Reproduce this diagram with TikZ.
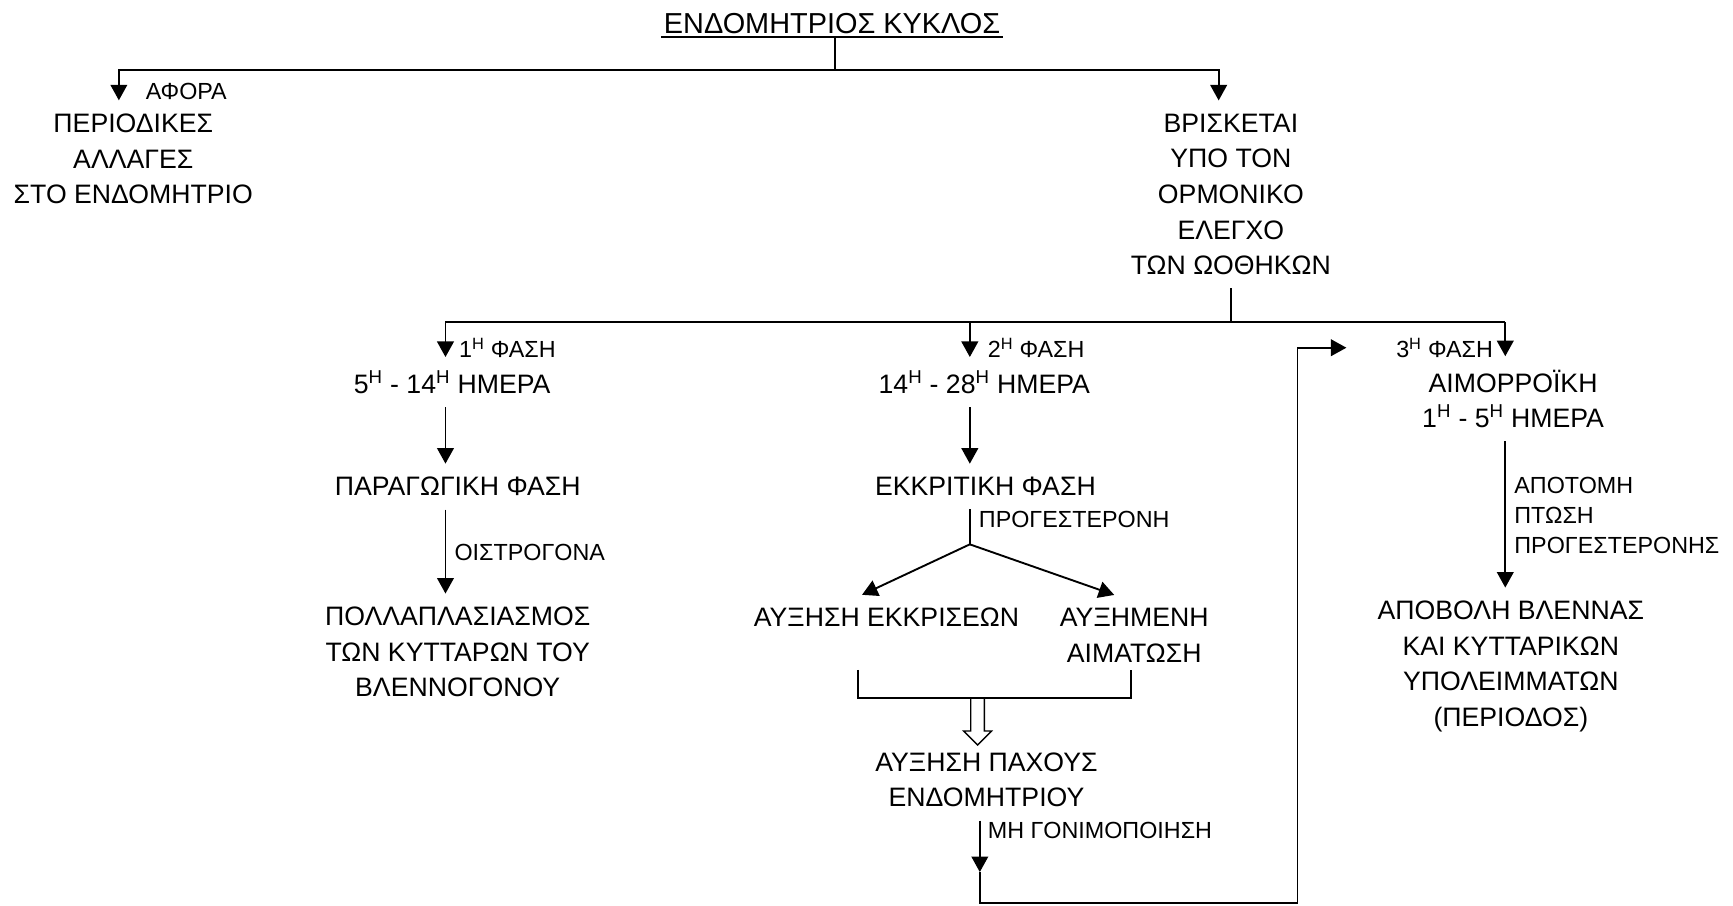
\documentclass[tikz,border=0pt]{standalone}
\usepackage{fontspec}
\setmainfont{Liberation Sans}
\usetikzlibrary{arrows.meta,shapes.arrows}
\newcommand{\supH}{\textsuperscript{Η}}

\begin{document}
\begin{tikzpicture}[x=1pt,y=-1pt,
    txt/.style={font={\fontsize{24}{32}\selectfont},align=center,inner xsep=2pt,inner ysep=12pt},
    lbl/.style={font={\fontsize{21}{27}\selectfont},align=left,inner sep=1pt},
    ln/.style={line width=1.7pt},
    arr/.style={line width=1.7pt,-{Triangle[length=14pt,width=15pt]}},
    hollow/.style={single arrow,draw,fill=white,line width=1.2pt,minimum height=42pt,
        inner sep=5.5pt,single arrow head extend=6.5pt,shape border rotate=270}]
\useasboundingbox (0,0) rectangle (1560,815);

\node[txt,font={\fontsize{26}{32}\selectfont},inner ysep=3pt] (cycle) at (749,21) {ΕΝΔΟΜΗΤΡΙΟΣ ΚΥΚΛΟΣ};
\draw[line width=1.4pt] (cycle.south west) -- (cycle.south east);

\node[txt] (changes) at (120,143) {ΠΕΡΙΟΔΙΚΕΣ\\ΑΛΛΑΓΕΣ\\ΣΤΟ ΕΝΔΟΜΗΤΡΙΟ};
\node[lbl,anchor=west] (about) at (130,82) {ΑΦΟΡΑ};
\node[txt] (control) at (1108,175) {ΒΡΙΣΚΕΤΑΙ\\ΥΠΟ ΤΟΝ\\ΟΡΜΟΝΙΚΟ\\ΕΛΕΓΧΟ\\ΤΩΝ ΩΟΘΗΚΩΝ};

\node[txt] (days1) at (407,344) {5\supH{} - 14\supH{} ΗΜΕΡΑ};
\node[lbl,anchor=west] (ph1) at (412,313) {1\supH{} ΦΑΣΗ};
\node[txt] (days2) at (886,344) {14\supH{} - 28\supH{} ΗΜΕΡΑ};
\node[lbl,anchor=west] (ph2) at (888,313) {2\supH{} ΦΑΣΗ};
\node[txt] (days3) at (1362,359) {ΑΙΜΟΡΡΟΪΚΗ\\1\supH{} - 5\supH{} ΗΜΕΡΑ};
\node[lbl,anchor=east] (ph3) at (1345,313) {3\supH{} ΦΑΣΗ};

\node[txt] (prolif) at (412,438) {ΠΑΡΑΓΩΓΙΚΗ ΦΑΣΗ};
\node[lbl,anchor=west] (oestr) at (408,497) {ΟΙΣΤΡΟΓΟΝΑ};
\node[txt] (cells) at (412,587) {ΠΟΛΛΑΠΛΑΣΙΑΣΜΟΣ\\ΤΩΝ ΚΥΤΤΑΡΩΝ ΤΟΥ\\ΒΛΕΝΝΟΓΟΝΟΥ};

\node[txt] (secr) at (887,438) {ΕΚΚΡΙΤΙΚΗ ΦΑΣΗ};
\node[lbl,anchor=west] (progest) at (880,468) {ΠΡΟΓΕΣΤΕΡΟΝΗ};
\node[txt] (secret) at (798,556) {ΑΥΞΗΣΗ ΕΚΚΡΙΣΕΩΝ};
\node[txt] (blood) at (1021,572) {ΑΥΞΗΜΕΝΗ\\ΑΙΜΑΤΩΣΗ};
\node[txt] (thick) at (888,702) {ΑΥΞΗΣΗ ΠΑΧΟΥΣ\\ΕΝΔΟΜΗΤΡΙΟΥ};
\node[lbl,anchor=west] (nofert) at (888,748) {ΜΗ ΓΟΝΙΜΟΠΟΙΗΣΗ};

\node[lbl,anchor=west] (drop) at (1362,464) {ΑΠΟΤΟΜΗ\\ΠΤΩΣΗ\\ΠΡΟΓΕΣΤΕΡΟΝΗΣ};
\node[txt] (shed) at (1360,600) {ΑΠΟΒΟΛΗ ΒΛΕΝΝΑΣ\\ΚΑΙ ΚΥΤΤΑΡΙΚΩΝ\\ΥΠΟΛΕΙΜΜΑΤΩΝ\\(ΠΕΡΙΟΔΟΣ)};

% top level
\coordinate (top) at (752,63);
\coordinate (topL) at (107,63);
\coordinate (topR) at (1097,63);
\draw[ln] (cycle.south -| top) -- (top);
\draw[arr] (top) -- (topL) -- (topL |- changes.north);
\draw[arr] (top) -- (topR) -- (topR |- control.north);

% the three phases
\coordinate (mid) at (1108,290);
\coordinate (b1) at (401,290);
\coordinate (b2) at (873,290);
\coordinate (b3) at (1355,290);
\draw[ln] (control.south -| mid) -- (mid);
\draw[ln] (b1) -- (b3);
\draw[arr] (b1) -- (b1 |- days1.north);
\draw[arr] (b2) -- (b2 |- days2.north);
\draw[arr] (b3) -- (b3 |- days3.north);

\draw[arr] (days1.south -| b1) -- (prolif.north -| b1);
\draw[arr] (prolif.south -| b1) -- (cells.north -| b1);

\draw[arr] (days2.south -| b2) -- (secr.north -| b2);
\coordinate (fork) at (873,490);
\draw[ln] (secr.south -| b2) -- (fork);
\draw[arr] (fork) -- (secret.north -| 776,0);
\draw[arr] (fork) -- (blood.north -| 1003,0);

\coordinate (brL) at (772,603);
\coordinate (brR) at (1018,603);
\coordinate (join) at (880,628);
\draw[ln] (brL) |- (join) -| (brR);
\node[hollow,anchor=tail] (pipe) at (join) {};

% back to the 3rd phase
\coordinate (lp) at (882,785);
\coordinate (lpB) at (882,813);
\coordinate (lpR) at (1168,813);
\coordinate (lpT) at (1168,313);
\coordinate (back) at (1212,313);
\draw[arr] (thick.south -| lp) -- (lp);
\draw[arr] (lp) -- (lpB) -- (lpR) -- (lpT) -- (back);

\draw[arr] (days3.south -| b3) -- (shed.north -| b3);

\end{tikzpicture}
\end{document}
